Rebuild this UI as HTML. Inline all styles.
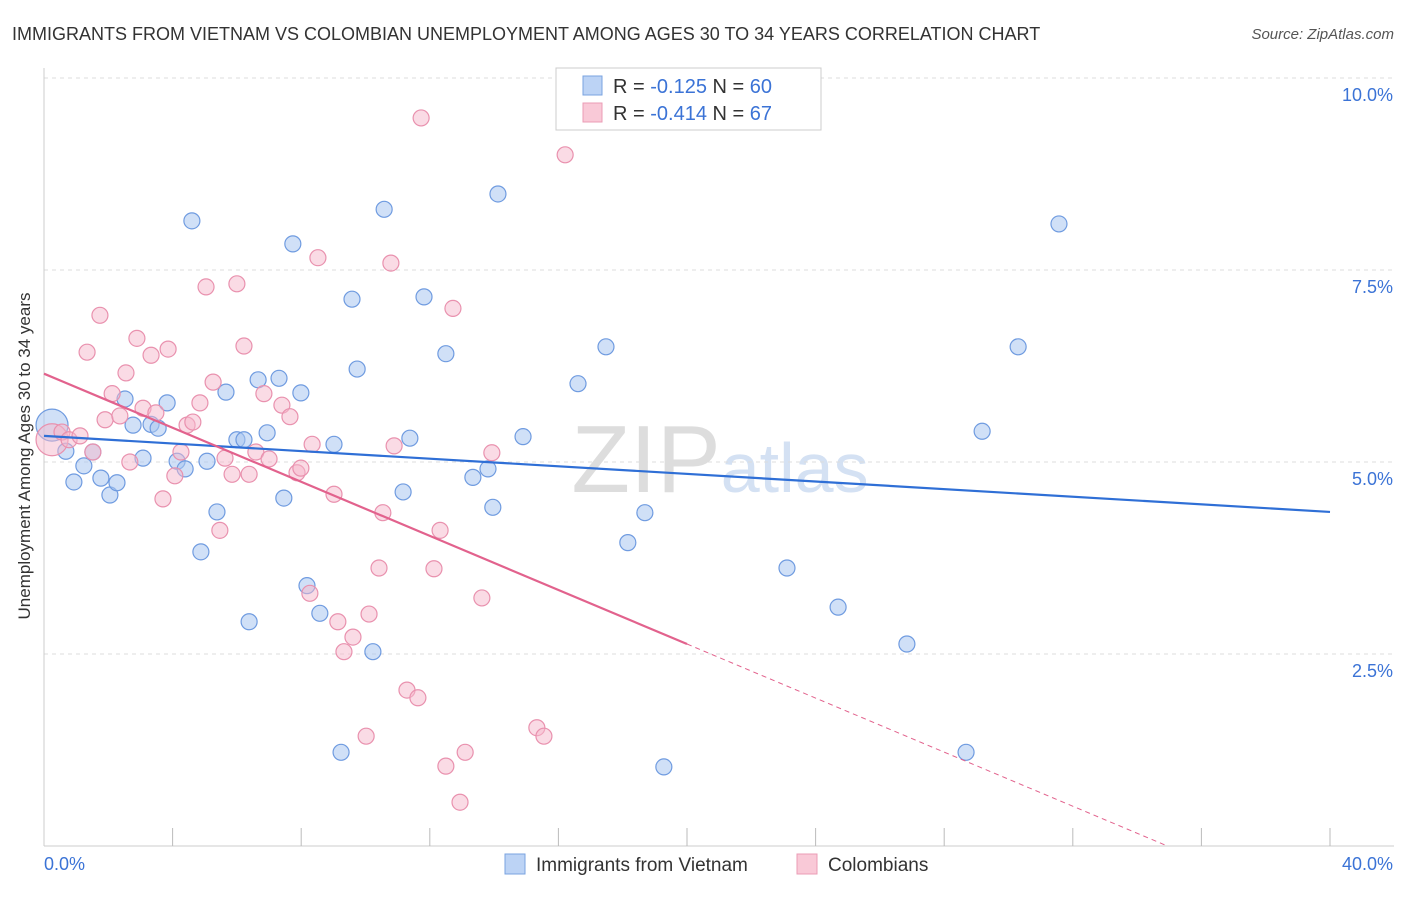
<!DOCTYPE html>
<html><head><meta charset="utf-8"><style>
body{margin:0;background:#fff;font-family:"Liberation Sans",sans-serif;}
svg text{font-family:"Liberation Sans",sans-serif;}
</style></head><body>
<svg id="chart" width="1406" height="892">
<text x="12" y="40" font-size="18" fill="#333">IMMIGRANTS FROM VIETNAM VS COLOMBIAN UNEMPLOYMENT AMONG AGES 30 TO 34 YEARS CORRELATION CHART</text>
<text x="1394" y="39" font-size="15" fill="#555" text-anchor="end" font-style="italic">Source: ZipAtlas.com</text>
<text x="30" y="456" font-size="17" fill="#333" text-anchor="middle" transform="rotate(-90 30 456)">Unemployment Among Ages 30 to 34 years</text>
<text x="720" y="492" font-size="96" fill="#ddd" text-anchor="middle" font-family="Liberation Serif">ZIP<tspan fill="#d4e1f3" font-family="Liberation Sans" font-size="70">atlas</tspan></text>
<g id="grid"></g><g id="axes"></g><g id="pts"></g><g id="lines"></g>
<g>
<rect x="556" y="68" width="265" height="62" fill="#fff" stroke="#ccc"/>
<rect x="583" y="76" width="19" height="19" fill="#bcd3f5" stroke="#7aa3e0"/>
<rect x="583" y="103" width="19" height="19" fill="#f9c9d7" stroke="#eb9cb6"/>
<text x="613" y="93" font-size="20" fill="#333">R = <tspan fill="#3b73d6">-0.125</tspan>   N = <tspan fill="#3b73d6">60</tspan></text>
<text x="613" y="120" font-size="20" fill="#333">R = <tspan fill="#3b73d6">-0.414</tspan>   N = <tspan fill="#3b73d6">67</tspan></text>
</g>
<g>
<rect x="505" y="854" width="20" height="20" fill="#bcd3f5" stroke="#7aa3e0"/>
<text x="536" y="871" font-size="19" fill="#333">Immigrants from Vietnam</text>
<rect x="797" y="854" width="20" height="20" fill="#f9c9d7" stroke="#eb9cb6"/>
<text x="828" y="871" font-size="19" fill="#333">Colombians</text>
</g>
</svg>
<script>
const yTicks=[2.5,5.0,7.5,10.0];
const xTickCount=10;
const blueX=[0.25,0.68,0.93,1.24,1.52,1.77,2.05,2.27,2.52,2.77,3.08,3.33,3.55,3.83,4.14,4.39,4.6,4.88,5.07,5.38,5.66,6.0,6.22,6.38,6.66,6.94,7.31,7.46,7.74,7.99,8.18,8.58,9.02,9.24,9.58,9.74,10.23,10.58,11.17,11.38,11.82,12.5,13.34,13.81,13.96,14.12,14.9,16.61,17.48,18.16,18.69,19.28,23.11,24.7,26.84,28.68,29.18,30.3,31.57];
const blueY=[5.48,5.14,4.74,4.95,5.13,4.79,4.57,4.73,5.82,5.48,5.05,5.49,5.44,5.77,5.01,4.91,8.14,3.83,5.01,4.35,5.91,5.29,5.29,2.92,6.07,5.38,6.09,4.53,7.84,5.9,3.39,3.03,5.23,1.22,7.12,6.21,2.53,8.29,4.61,5.31,7.15,6.41,4.8,4.91,4.41,8.49,5.33,6.02,6.5,3.95,4.34,1.03,3.62,3.11,2.63,1.22,5.4,6.5,8.1];
const pinkX=[0.25,0.56,0.78,1.12,1.52,1.74,1.34,1.9,2.12,2.36,2.55,2.67,2.89,3.08,3.33,3.48,3.7,3.86,4.07,4.26,4.45,4.63,4.85,5.04,5.26,5.47,5.63,5.85,6.0,6.22,6.38,6.59,6.84,7.0,7.4,7.65,7.87,7.99,8.27,8.34,8.52,9.02,9.14,9.33,9.61,10.02,10.11,10.42,10.54,10.79,10.89,11.29,11.63,11.73,12.32,12.5,12.13,12.72,12.94,13.1,13.62,13.93,15.33,15.55,16.21];
const pinkY=[5.29,5.39,5.29,5.34,5.13,6.91,6.43,5.55,5.89,5.6,6.16,5.0,6.61,5.7,6.39,5.64,4.52,6.47,4.82,5.13,5.48,5.52,5.77,7.28,6.04,4.11,5.05,4.84,7.32,6.51,4.84,5.13,5.89,5.04,5.74,5.59,4.86,4.92,3.29,5.23,7.66,4.58,2.92,2.53,2.72,1.43,3.02,3.62,4.34,7.59,5.21,2.03,1.93,9.48,4.11,1.04,3.61,7.0,0.57,1.22,3.23,5.12,1.54,1.43,9.0];
const blueFit=[5.34,4.35];
const pinkFit=[6.15,-0.176];
const sx=v=>44+v*32.15, sy=v=>846-v*76.8;
const NS="http://www.w3.org/2000/svg";
function mk(t,a,p){const e=document.createElementNS(NS,t);for(const k in a)e.setAttribute(k,a[k]);p.appendChild(e);return e;}
const grid=document.getElementById('grid'),axes=document.getElementById('axes'),pts=document.getElementById('pts'),lines=document.getElementById('lines');
yTicks.forEach(t=>{const l=mk('line',{x1:44,x2:1394,y1:sy(t),y2:sy(t),stroke:'#ddd','stroke-dasharray':'4,4'},grid);


const tx=mk('text',{x:1393,y:sy(t)+23,'font-size':18,fill:'#3b73d6','text-anchor':'end'},axes);tx.textContent=t.toFixed(1)+'%';

});
const ax=mk('line',{x1:44,x2:44,y1:68,y2:846,stroke:'#ccc'},axes);


const bx=mk('line',{x1:44,x2:1394,y1:846,y2:846,stroke:'#ccc'},axes);


for(let i=1;i<=xTickCount;i++){const t=mk('line',{x1:sx(i*4),x2:sx(i*4),y1:828,y2:846,stroke:'#bbb'},axes);

}
const x0=mk('text',{x:44,y:870,'font-size':18,fill:'#3b73d6'},axes);x0.textContent='0.0%';


const x1=mk('text',{x:1393,y:870,'font-size':18,fill:'#3b73d6','text-anchor':'end'},axes);x1.textContent='40.0%';


blueX.forEach((v,i)=>{const c=mk('circle',{cx:sx(v),cy:sy(blueY[i]),r:i==0?16:8,fill:'#a9c6f0','fill-opacity':0.55,stroke:'#6f9be0','stroke-width':1.2},pts);

});
pinkX.forEach((v,i)=>{const c=mk('circle',{cx:sx(v),cy:sy(pinkY[i]),r:i==0?16:8,fill:'#f5b8cb','fill-opacity':0.5,stroke:'#e991ae','stroke-width':1.2},pts);

});
const bl=mk('line',{x1:sx(0),y1:sy(blueFit[0]),x2:sx(40),y2:sy(blueFit[1]),stroke:'#2f6fd6','stroke-width':2.2},lines);


const pf=x=>pinkFit[0]+pinkFit[1]*x;
const pl=mk('line',{x1:sx(0),y1:sy(pf(0)),x2:sx(20),y2:sy(pf(20)),stroke:'#e2628d','stroke-width':2.2},lines);


const xe=-pinkFit[0]/pinkFit[1];
const pd=mk('line',{x1:sx(20),y1:sy(pf(20)),x2:sx(xe),y2:sy(0),stroke:'#e2628d','stroke-width':1,'stroke-dasharray':'5,4'},lines);


</script>
</body></html>
